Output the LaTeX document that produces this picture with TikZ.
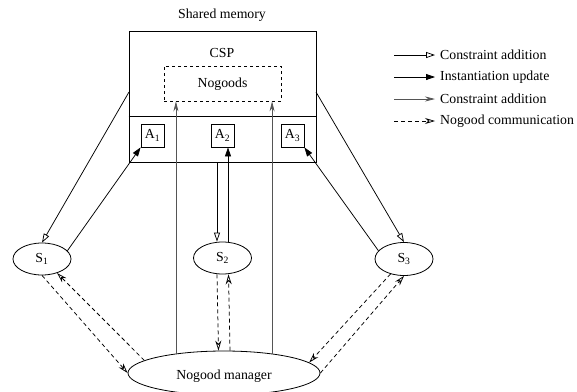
\documentclass[tikz,border=0pt]{standalone}
\usepackage{fontspec}
\setmainfont{Liberation Serif}
\usetikzlibrary{arrows.meta,shapes.geometric,calc}
\definecolor{cagray}{RGB}{85,85,85}
\newcommand\dfont{\fontsize{13.8pt}{16pt}\selectfont}
\tikzset{
  every node/.style={font=\dfont, inner sep=2pt},
  box/.style={draw, line width=0.8pt, minimum width=23pt, minimum height=23pt, inner sep=0pt},
  ell/.style={draw, ellipse, line width=0.8pt, inner sep=0pt},
  lin/.style={line width=0.75pt},
  caopen/.style={lin, -{Triangle[open, length=9pt, width=6pt]}},
  inst/.style={lin, -{Triangle[length=9pt, width=6pt]}},
  cagr/.style={lin, draw=cagray, -{Stealth[length=10pt, width=5pt, fill=cagray]}},
  ngc/.style={lin, dash pattern=on 4pt off 3pt, -{Stealth[open, length=10pt, width=6pt]}},
}
\begin{document}
\begin{tikzpicture}[x=1pt,y=-1pt]
\useasboundingbox (0,0) rectangle (577,391);
% shared memory
\node (title) at (222,15) {Shared memory};
\node[draw, line width=0.8pt, minimum width=187pt, minimum height=131pt, inner sep=0pt] (mem) at (222.5,96.5) {};
\draw[line width=0.8pt] (mem.west |- 0,116) coordinate (dl) -- (mem.east |- 0,116) coordinate (dr);
\node (csp) at (222,53) {CSP};
\node[draw, dashed, line width=0.8pt, minimum width=117pt, minimum height=35pt, inner sep=0pt] (ng) at (222.5,83.5) {};
\node (ngt) at (222.5,84) {Nogoods};
\node[box] (A1) at (152.5,135.5) {A\textsubscript{1}};
\node[box] (A2) at (222.5,135.5) {A\textsubscript{2}};
\node[box] (A3) at (292.5,135.5) {A\textsubscript{3}};
% solvers
\node[ell, minimum width=58pt, minimum height=32pt] (S1) at (42,259) {S\textsubscript{1}};
\node[ell, minimum width=58pt, minimum height=32pt] (S2) at (222.5,258) {S\textsubscript{2}};
\node[ell, minimum width=58pt, minimum height=33pt] (S3) at (404,259) {S\textsubscript{3}};
\node[ell, minimum width=192pt, minimum height=44pt] (NM) at (224,373) {};
\node (NMt) at (224,376) {Nogood manager};
% connectors
\coordinate (ml) at (129,92);
\coordinate (mr) at (316,92);
\draw[caopen] (ml) -- (S1.north);
\draw[inst] (S1.18) -- (A1.south west);
\draw[caopen] (mr) -- (S3.north);
\draw[inst] (S3.162) -- (A3.south east);
\draw[caopen] ([xshift=-5.5pt]mem.south) -- ([xshift=-5.5pt]S2.north);
\draw[inst] ([xshift=5.5pt]S2.north) -- ([xshift=5.5pt]A2.south);
\draw[cagr] (NM.158) -- (NM.158 |- ng.south);
\draw[cagr] (NM.22) -- (NM.22 |- ng.south);
% nogood communication
\draw[ngc] (S1.south) -- (NM.west);
\draw[ngc] (NM.171) -- (S1.-43);
\draw[ngc] ([xshift=-5.5pt]S2.south) -- ([xshift=-5.5pt]NM.north);
\draw[ngc] ([xshift=6pt]NM.north) -- ([xshift=6pt]S2.south);
\draw[ngc] (S3.-132) -- (NM.7);
\draw[ngc] (NM.east) -- (S3.south);
% legend
\coordinate (l1a) at (394,55); \coordinate (l1b) at (435,55);
\coordinate (l2a) at (394,77); \coordinate (l2b) at (435,77);
\coordinate (l3a) at (394,99); \coordinate (l3b) at (435,99);
\coordinate (l4a) at (394,121); \coordinate (l4b) at (435,121);
\draw[caopen] (l1a) -- (l1b);
\draw[inst] (l2a) -- (l2b);
\draw[cagr] (l3a) -- (l3b);
\draw[ngc] (l4a) -- (l4b);
\node[anchor=west] (t1) at (438,55) {Constraint addition};
\node[anchor=west] (t2) at (438,77) {Instantiation update};
\node[anchor=west] (t3) at (438,99) {Constraint addition};
\node[anchor=west] (t4) at (438,121) {Nogood communication};
\end{tikzpicture}
\end{document}
